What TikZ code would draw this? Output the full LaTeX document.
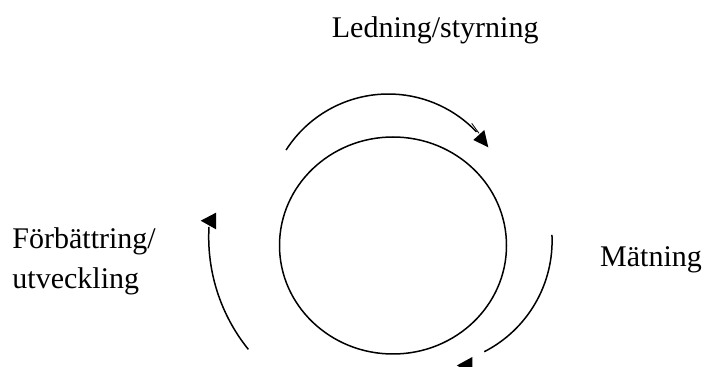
\documentclass[tikz,border=0pt]{standalone}
\usepackage{fontspec}
\setmainfont{Liberation Serif}
\usetikzlibrary{shapes.geometric}

\tikzset{
  stroke/.style={line width=1.5pt, line cap=butt},
  label text/.style={font=\fontsize{30}{36}\selectfont, inner sep=0pt, anchor=base west},
  head/.style={fill=black},
}

\begin{document}
\begin{tikzpicture}[x=1pt, y=1pt]
  % canvas
  \fill[white] (0,0) rectangle (705,367);
  \useasboundingbox (0,0) rectangle (705,367);
  \clip (0,0) rectangle (705,367);

  % central cycle
  \node[ellipse, draw, stroke, minimum width=227pt, minimum height=217pt, inner sep=0pt]
    (hub) at (393,121.5) {};

  % centres of the three feedback arcs
  \coordinate (ctop)   at (388.4,151.5);
  \coordinate (cright) at (427.5,126.2);
  \coordinate (cleft)  at (387.5,129.9);

  % upper arc (towards Mätning)
  \draw[stroke] ([shift={(147.4:121.5pt)}]ctop)
    arc[start angle=147.4, end angle=43.5, radius=121.5pt];
  \draw[line width=0.8pt] (471.7,243.7) -- (479,233.7);
  \coordinate (t1) at (488.3,219.7);
  \coordinate (t2) at (473.3,227);
  \coordinate (t3) at (484.3,237);
  \fill[head] (t1) -- (t2) -- (t3) -- cycle;

  % right arc (downwards)
  \draw[stroke] ([shift={(2.7:124.6pt)}]cright)
    arc[start angle=2.7, end angle=-62.9, radius=124.6pt];
  \coordinate (r1) at (456.8,1.5);
  \coordinate (r2) at (472.3,10);
  \coordinate (r3) at (472.3,-7);
  \fill[head] (r1) -- (r2) -- (r3) -- cycle;

  % left arc (upwards)
  \draw[stroke] ([shift={(218.9:178.8pt)}]cleft)
    arc[start angle=218.9, end angle=176.7, radius=178.8pt];
  \coordinate (l1) at (200.7,146.3);
  \coordinate (l2) at (216,154.3);
  \coordinate (l3) at (216,137.7);
  \fill[head] (l1) -- (l2) -- (l3) -- cycle;

  % stage labels
  \node[label text] (lead)  at (331.7,329.7) {Ledning/styrning};
  \node[label text] (meas)  at (600,100.5)   {Mätning};
  \node[label text] (imp1)  at (12.3,118.5)  {Förbättring/};
  \node[label text] (imp2)  at (12.3,78)     {utveckling};
\end{tikzpicture}
\end{document}
